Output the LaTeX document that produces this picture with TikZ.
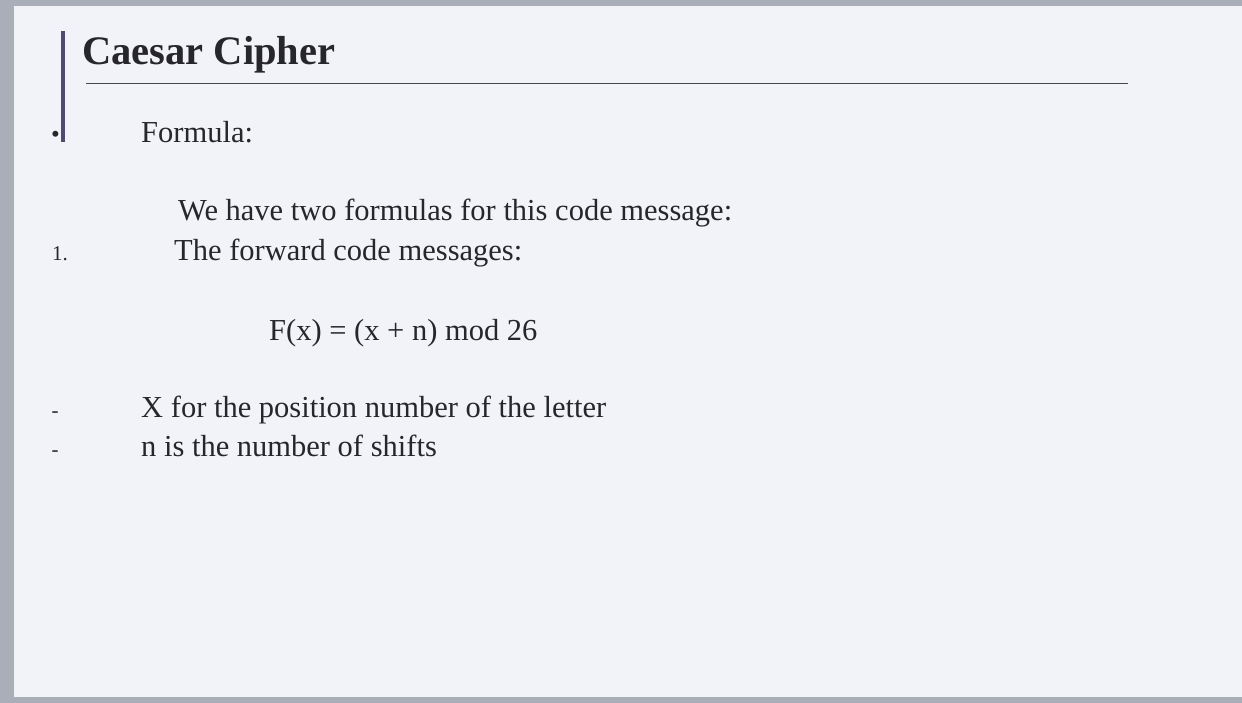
\documentclass[tikz,border=0pt]{standalone}
\usepackage{fontspec}
\setmainfont{Liberation Serif}
\definecolor{frame}{HTML}{A9AEB8}
\definecolor{paper}{HTML}{F2F3F9}
\definecolor{ink}{HTML}{26262B}
\definecolor{barc}{HTML}{4F4A70}
\begin{document}
\begin{tikzpicture}[x=1pt,y=-1pt,
  body/.style={anchor=base west,inner sep=0pt,text=ink,font=\fontsize{30.5}{36}\selectfont},
  small/.style={anchor=base west,inner sep=0pt,text=ink,font=\fontsize{21}{25}\selectfont},
  titletext/.style={anchor=base west,inner sep=0pt,text=ink,font=\fontsize{40.5}{48}\selectfont\bfseries}]
\useasboundingbox (0,0) rectangle (1242,703);
\fill[frame] (0,0) rectangle (1242,703);
\fill[paper] (14,6) rectangle (1242,697);
% title block
\coordinate (bartop) at (63,31);
\coordinate (barbot) at (63,142);
\draw[barc,line width=3.2pt] (bartop) -- (barbot);
\node[titletext] (title) at (82,65) {Caesar Cipher};
\coordinate (ruleL) at (86,83.5);
\coordinate (ruleR) at (1128,83.5);
\draw[ink!85,line width=1.2pt] (ruleL) -- (ruleR);
% bullet
\node[small,font=\fontsize{25}{28}\selectfont] (dot) at (51,143) {•};
\node[body] (formula) at (141,143) {Formula:};
\node[body] (intro) at (178,221) {We have two formulas for this code message:};
\node[small] (num) at (52,261) {1.};
\node[body] (forward) at (174,261) {The forward code messages:};
\node[body] (eq) at (269,340) {F(x) = (x + n) mod 26};
\node[small] (d1) at (51.5,417) {-};
\node[body] (xline) at (141,417) {X for the position number of the letter};
\node[small] (d2) at (51.5,456) {-};
\node[body] (nline) at (141,456) {n is the number of shifts};
\end{tikzpicture}
\end{document}
